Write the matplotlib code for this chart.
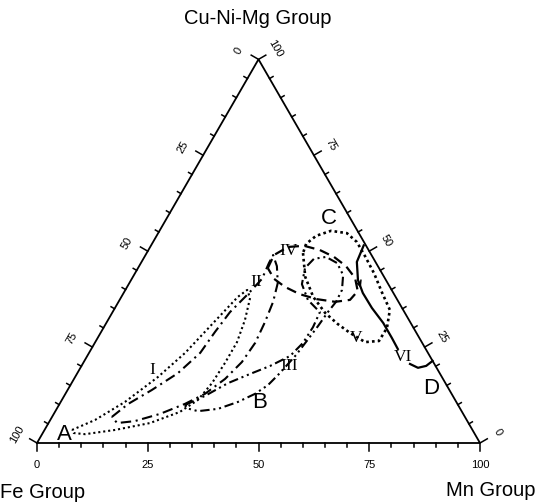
import numpy as np
import matplotlib.pyplot as plt

# ternary compositions in %: (Mn Group, Cu-Ni-Mg Group); Fe Group = 100 - Mn - CuNiMg
loop1_mn = [6.2, 10.1, 14.5, 18.7, 21.7, 24.3, 26.3, 27.5, 29.2, 30.9, 32.0, 32.0,
            31.7, 30.7, 28.2, 22.9, 15.9, 9.7, 7.0]
loop1_cu = [3.4, 6.0, 10.7, 17.2, 23.5, 31.8, 38.1, 39.9, 37.8, 32.1, 26.3, 20.9,
            15.6, 11.2, 8.1, 5.2, 3.4, 2.3, 2.6]

loop2_mn = [13.5, 15.5, 19.0, 22.7, 25.1, 25.7, 26.5, 28.2, 29.4, 28.9, 28.8, 31.1,
            33.5, 34.9, 35.7, 36.2, 35.7, 34.1, 31.5, 28.3, 24.0, 19.2, 15.5]
loop2_cu = [6.8, 10.2, 13.8, 18.2, 23.5, 28.9, 34.1, 38.8, 42.8, 46.9, 49.0, 46.1,
            41.7, 36.8, 31.5, 26.1, 21.1, 16.7, 12.8, 10.2, 7.6, 5.7, 5.2]

loop3_mn = [28.5, 31.8, 35.3, 39.1, 42.6, 45.8, 47.0, 47.2, 46.8, 42.5, 39.1, 37.7,
            38.5, 41.0, 44.3, 47.2, 48.9, 49.1, 48.6, 48.2, 47.6, 47.0, 45.7, 44.6,
            42.8, 40.0, 36.4, 32.2, 29.1]
loop3_cu = [9.9, 12.3, 15.6, 18.0, 20.1, 22.7, 26.1, 30.2, 34.1, 37.3, 41.4, 45.6,
            48.0, 48.5, 46.9, 43.8, 39.9, 36.8, 34.1, 30.5, 26.6, 22.9, 18.2, 15.1,
            12.8, 10.7, 8.9, 8.3, 9.1]

loop4_mn = [29.3, 29.0, 31.1, 34.6, 38.7, 42.8, 46.7, 50.3, 52.6, 52.0, 48.9, 44.4,
            39.9, 35.6, 32.1]
loop4_cu = [45.6, 49.0, 51.1, 51.4, 50.3, 48.5, 46.1, 43.0, 39.6, 37.3, 36.8, 37.5,
            38.8, 40.7, 42.8]

loop5_mn = [35.3, 38.9, 43.3, 48.1, 52.4, 56.3, 60.9, 63.9, 64.0, 62.3, 58.2, 54.0,
            49.7, 46.0, 42.6, 38.7, 36.0, 34.8]
loop5_cu = [49.5, 43.3, 38.1, 33.9, 31.0, 28.7, 26.3, 26.6, 30.0, 34.7, 39.3, 44.2,
            48.7, 52.4, 54.7, 55.3, 54.0, 51.9]

path6_mn = [48.0, 48.6, 51.2, 54.0, 58.0, 62.5, 66.4, 69.2]
path6_cu = [51.5, 47.2, 42.5, 39.1, 35.2, 31.3, 27.4, 24.5]
tail6_mn = [73.9, 76.2, 77.8, 78.6]
tail6_cu = [20.6, 19.6, 20.1, 21.4]

ticks = list(range(0, 101, 5))
tick_labels = [0, 25, 50, 75, 100]

SQ = np.sqrt(3) / 2
PX = 4.43  # pixels per percent unit


def tern(mn, cu):
    mn = np.asarray(mn, float)
    cu = np.asarray(cu, float)
    return mn + cu / 2, cu * SQ


def closed(a):
    return np.append(a, a[0])


def fpos(px, py):
    return px / 540, 1 - py / 504


fig = plt.figure(figsize=(5.4, 5.04), dpi=100)
ax = fig.add_axes([0, 0, 1, 1])
ax.set_xlim(-37 / PX, 503 / PX)
ax.set_ylim(-61 / PX, 443 / PX)
ax.axis('off')

# triangle frame
ax.plot([0, 100, 50, 0], [0, 0, 100 * SQ, 0], color='k', lw=1.3, solid_joinstyle='miter')

sans = 'Liberation Sans'
serif = 'Liberation Serif'

for v in ticks:
    L = 1.9 if v % 25 == 0 else 0.9
    # bottom (Mn)
    ax.plot([v, v], [0, -L], color='k', lw=1.1)
    # left (Fe)
    lx, ly = 50 - 0.5 * v, SQ * (100 - v)
    ax.plot([lx, lx - L * SQ], [ly, ly + L * 0.5], color='k', lw=1.1)
    # right (Cu-Ni-Mg)
    rx, ry = 100 - 0.5 * v, SQ * v
    ax.plot([rx, rx + L * SQ], [ry, ry + L * 0.5], color='k', lw=1.1)
    if v in tick_labels:
        ax.text(v, -5.0, str(v), ha='center', va='center', fontsize=8, family=sans)
        ax.text(lx - 4.6, ly + 1.9, str(v), ha='center', va='center', fontsize=8,
                family=sans, rotation=60)
        ax.text(rx + 3.9, ry + 2.4, str(v), ha='center', va='center', fontsize=8,
                family=sans, rotation=-60)

# loops
x, y = tern(loop1_mn, loop1_cu)
ax.plot(closed(x), closed(y), color='k', lw=1.5, ls=(0, (1, 1.4)))
x, y = tern(loop2_mn, loop2_cu)
ax.plot(closed(x), closed(y), color='k', lw=1.5, ls=(0, (5, 2.2, 1, 2.2)))
x, y = tern(loop3_mn, loop3_cu)
ax.plot(closed(x), closed(y), color='k', lw=1.5, ls=(0, (4.5, 1.8, 1, 1.8, 1, 1.8)))
x, y = tern(loop4_mn, loop4_cu)
ax.plot(closed(x), closed(y), color='k', lw=1.6, ls=(0, (4.5, 2.6)))
x, y = tern(loop5_mn, loop5_cu)
ax.plot(closed(x), closed(y), color='k', lw=1.9, ls=(0, (1, 1.2)))
x, y = tern(path6_mn, path6_cu)
ax.plot(x, y, color='k', lw=1.6)
ax.annotate('', xy=(x[3], y[3]), xytext=(x[2], y[2]),
            arrowprops=dict(arrowstyle='->', lw=1.1, color='k', mutation_scale=10,
                            shrinkA=0, shrinkB=4))
x, y = tern(tail6_mn, tail6_cu)
ax.plot(x, y, color='k', lw=1.6)

# axis titles
fig.text(*fpos(258, 18), 'Cu-Ni-Mg Group', ha='center', va='center', fontsize=14.5, family=sans)
fig.text(*fpos(0, 492), 'Fe Group', ha='left', va='center', fontsize=14.5, family=sans)
fig.text(*fpos(536, 490), 'Mn Group', ha='right', va='center', fontsize=14.5, family=sans)

# end members
for s, px, py in [('A', 64, 434), ('B', 260, 403), ('C', 329, 219), ('D', 431, 388)]:
    fig.text(*fpos(px, py), s, ha='center', va='center', fontsize=16, family=sans)

# loop numbers
for s, px, py in [('I', 152, 370), ('II', 256, 282), ('III', 289, 366),
                  ('IV', 289, 251), ('V', 356, 338), ('VI', 403, 357)]:
    fig.text(*fpos(px, py), s, ha='center', va='center', fontsize=12.5, family=serif)

fig.savefig('out.png', dpi=100)
